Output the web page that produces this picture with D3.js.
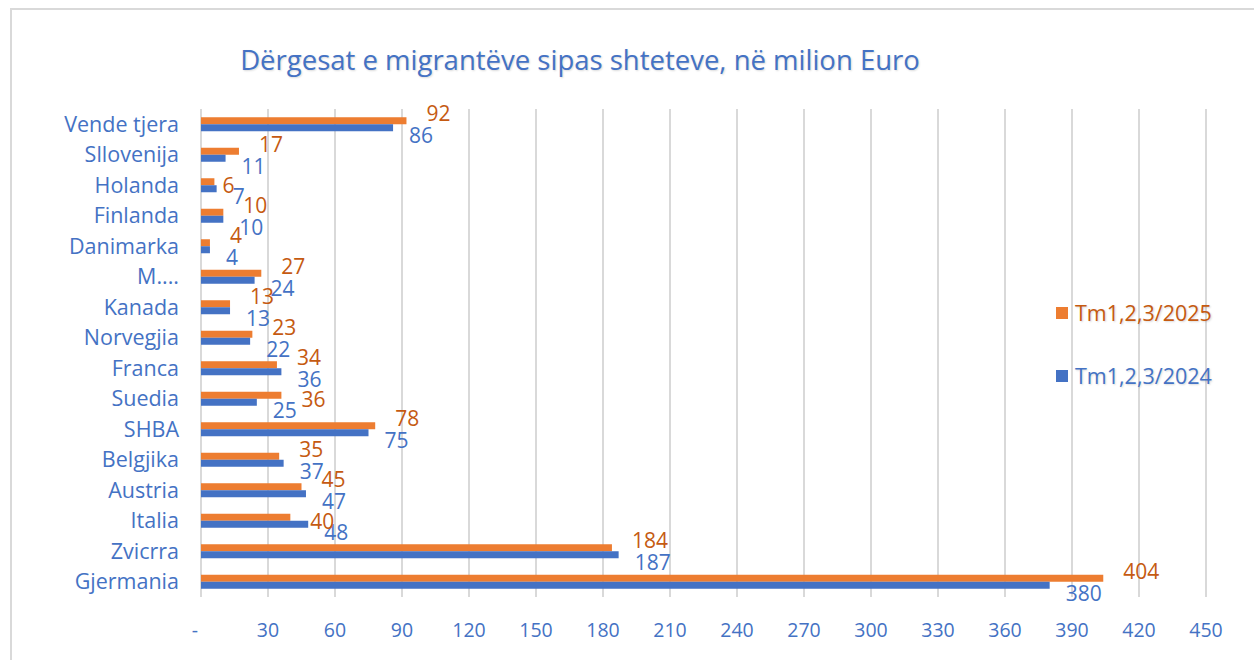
<!DOCTYPE html>
<html>
<head>
<meta charset="utf-8">
<script src="https://cdn.jsdelivr.net/npm/d3@7"></script>
<style>
  body { margin: 0; background: #fff; }
  svg text { font-family: "Open Sans", Lato, sans-serif; }
</style>
</head>
<body>
<div id="chart"></div>
<script>
// categories top to bottom
const countries = ["Vende tjera", "Sllovenija", "Holanda", "Finlanda", "Danimarka", "M....",
  "Kanada", "Norvegjia", "Franca", "Suedia", "SHBA", "Belgjika", "Austria", "Italia",
  "Zvicrra", "Gjermania"];
const values2025 = [92, 17, 6, 10, 4, 27, 13, 23, 34, 36, 78, 35, 45, 40, 184, 404];
const values2024 = [86, 11, 7, 10, 4, 24, 13, 22, 36, 25, 75, 37, 47, 48, 187, 380];
const tickValues = [0, 30, 60, 90, 120, 150, 180, 210, 240, 270, 300, 330, 360, 390, 420, 450];
const seriesNames = ["Tm1,2,3/2025", "Tm1,2,3/2024"];

const W = 1254, H = 660;
const orange = "#ED7D31", blue = "#4472C4", orangeText = "#C55A11";
const labelSize = 21;

const svg = d3.select("#chart").append("svg")
  .attr("width", W)
  .attr("height", H);

// chart frame
svg.append("rect")
  .attr("x", 11).attr("y", 9)
  .attr("width", W + 20).attr("height", H + 20)
  .attr("fill", "#fff")
  .attr("stroke", "#d9d9d9")
  .attr("stroke-width", 2);

// title
svg.append("text")
  .attr("x", 580)
  .attr("y", 70)
  .attr("text-anchor", "middle")
  .style("font-size", "27.5px")
  .style("fill", blue)
  .style("text-shadow", "1px 1px 2px rgba(0,0,0,0.15)")
  .text("Dërgesat e migrantëve sipas shteteve, në milion Euro");

// scales
const x = d3.scaleLinear().domain([0, 450]).range([201, 1206]);
const y = d3.scaleBand().domain(countries).range([109, 597]);
const barH = 7;

// gridlines
svg.append("g")
  .selectAll("line")
  .data(tickValues)
  .join("line")
  .attr("x1", d => x(d)).attr("x2", d => x(d))
  .attr("y1", 109).attr("y2", 597)
  .attr("stroke", "#d9d9d9")
  .attr("stroke-width", 2);

// x tick labels
svg.append("g")
  .selectAll("text")
  .data(tickValues)
  .join("text")
  .attr("x", d => d === 0 ? x(d) - 6 : x(d))
  .attr("y", 637)
  .attr("text-anchor", "middle")
  .style("font-size", "19.5px")
  .style("fill", blue)
  .text(d => d === 0 ? "-" : d);

// category labels
svg.append("g")
  .selectAll("text")
  .data(countries)
  .join("text")
  .attr("x", 179)
  .attr("y", d => y(d) + y.bandwidth() / 2 + 7.5)
  .attr("text-anchor", "end")
  .style("font-size", "21.5px")
  .style("fill", blue)
  .text(d => d);

const rows = countries.map((c, i) => ({ c: c, a: values2025[i], b: values2024[i] }));
const mid = d => y(d.c) + y.bandwidth() / 2;

// bars 2025 (orange, upper)
svg.append("g")
  .selectAll("rect")
  .data(rows)
  .join("rect")
  .attr("x", x(0))
  .attr("y", d => mid(d) - barH)
  .attr("width", d => x(d.a) - x(0))
  .attr("height", barH)
  .attr("fill", orange);

// bars 2024 (blue, lower)
svg.append("g")
  .selectAll("rect")
  .data(rows)
  .join("rect")
  .attr("x", x(0))
  .attr("y", d => mid(d))
  .attr("width", d => x(d.b) - x(0))
  .attr("height", barH)
  .attr("fill", blue);

// value labels: blue below-right, orange above-right;
// orange moves beside its bar when it would hit a neighbour label
const digitH = labelSize * 0.72;
const placed = [];
const box = (node, px, py) => {
  const w = node.getComputedTextLength();
  return { x0: px, x1: px + w, y0: py - digitH, y1: py };
};
const hits = (b) => placed.some(p =>
  Math.min(b.x1, p.x1) - Math.max(b.x0, p.x0) > 4 &&
  Math.min(b.y1, p.y1) - Math.max(b.y0, p.y0) > 0);

const blueLabels = svg.append("g");
rows.forEach(d => {
  const px = x(d.b) + 16, py = mid(d) + 19;
  const t = blueLabels.append("text")
    .attr("x", px).attr("y", py)
    .style("font-size", labelSize + "px")
    .style("fill", blue)
    .text(d.b);
  placed.push(box(t.node(), px, py));
});

const orangeLabels = svg.append("g");
rows.forEach(d => {
  const t = orangeLabels.append("text")
    .style("font-size", labelSize + "px")
    .style("fill", orangeText)
    .text(d.a);
  const above = [x(d.a) + 20, mid(d) - 3];
  const beside = [x(d.a) + 20, mid(d) + 8];
  const near = [x(d.a) + 8, mid(d) + 8];
  let pick = beside;
  if (!hits(box(t.node(), above[0], above[1]))) pick = above;
  else if (!hits(box(t.node(), beside[0], beside[1]))) pick = beside;
  else if (near[0] > x(d.b) + 4 && !hits(box(t.node(), near[0], near[1]))) pick = near;
  t.attr("x", pick[0]).attr("y", pick[1]);
  placed.push(box(t.node(), pick[0], pick[1]));
});

// legend
const legend = svg.append("g")
  .selectAll("g")
  .data(seriesNames)
  .join("g")
  .attr("transform", (d, i) => `translate(1056,${307 + i * 63})`);

legend.append("rect")
  .attr("width", 12).attr("height", 12)
  .attr("fill", (d, i) => i === 0 ? orange : blue);

legend.append("text")
  .attr("x", 19)
  .attr("y", 14)
  .style("font-size", "21.5px")
  .style("fill", (d, i) => i === 0 ? orangeText : blue)
  .style("text-shadow", "1px 1px 2px rgba(0,0,0,0.15)")
  .text(d => d);
</script>
</body>
</html>
